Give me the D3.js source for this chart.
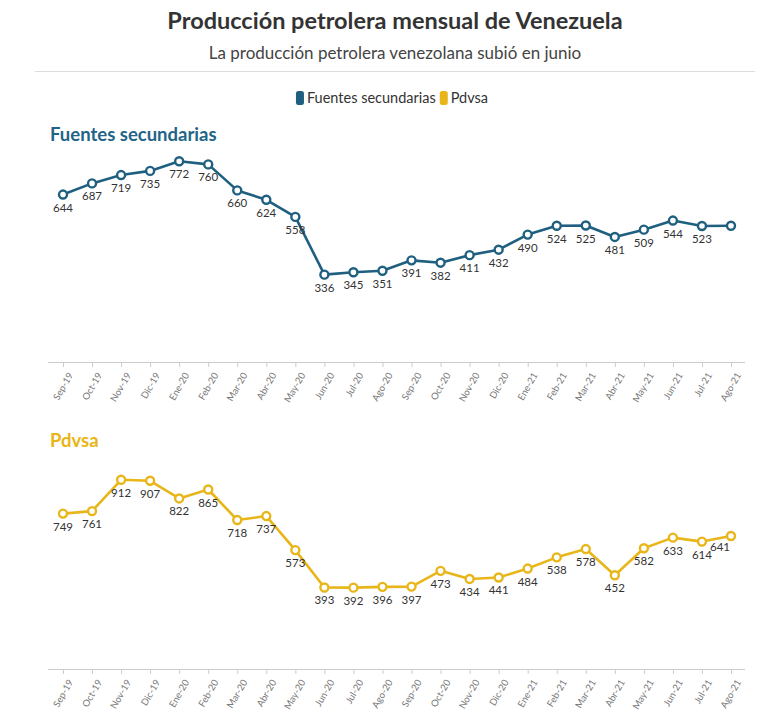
<!DOCTYPE html>
<html>
<head>
<meta charset="utf-8">
<script src="https://cdn.jsdelivr.net/npm/d3@7"></script>
<style>
  html, body { margin: 0; padding: 0; background: #ffffff; }
  svg { display: block; }
</style>
</head>
<body>
<svg id="chart" width="768" height="718"></svg>
<script>
const months = ["Sep-19","Oct-19","Nov-19","Dic-19","Ene-20","Feb-20","Mar-20","Abr-20","May-20","Jun-20","Jul-20","Ago-20","Sep-20","Oct-20","Nov-20","Dic-20","Ene-21","Feb-21","Mar-21","Abr-21","May-21","Jun-21","Jul-21","Ago-21"];
const fuentesValues = [644,687,719,735,772,760,660,624,558,336,345,351,391,382,411,432,490,524,525,481,509,544,523,524];
const pdvsaValues = [749,761,912,907,822,865,718,737,573,393,392,396,397,473,434,441,484,538,578,452,582,633,614,641];
const fuentesHiddenLabels = ["Ago-21"];
const pdvsaHiddenLabels = [];
const fuentesDomain = [0, 800];
const pdvsaDomain = [0, 1000];

const titleText = "Producción petrolera mensual de Venezuela";
const subtitleText = "La producción petrolera venezolana subió en junio";
const seriesNames = ["Fuentes secundarias", "Pdvsa"];
const colors = { fuentes: "#1f5f80", pdvsa: "#e8b619" };
const titleColors = { fuentes: "#226487", pdvsa: "#e9b514" };

const FONT = "Lato, 'Open Sans', 'Noto Sans', sans-serif";
const svg = d3.select("#chart").style("font-family", FONT);

svg.append("text").attr("x", 395).attr("y", 29).attr("text-anchor", "middle")
  .attr("font-size", 23.5).attr("font-weight", 700).attr("fill", "#333")
  .text(titleText);
svg.append("text").attr("x", 395).attr("y", 59).attr("text-anchor", "middle")
  .attr("font-size", 17).attr("fill", "#444")
  .text(subtitleText);
svg.append("line").attr("x1", 35).attr("x2", 755).attr("y1", 71.5).attr("y2", 71.5)
  .attr("stroke", "#dddddd").attr("stroke-width", 1);

// Legend
const legend = svg.append("g");
const legendItems = [
  { name: seriesNames[0], color: colors.fuentes },
  { name: seriesNames[1], color: colors.pdvsa }
];
let lx = 0;
const lg = legend.selectAll("g").data(legendItems).join("g");
lg.each(function(d) {
  const g = d3.select(this);
  g.append("rect").attr("x", 0).attr("y", -7).attr("width", 8).attr("height", 14).attr("rx", 2.5)
    .attr("fill", d.color);
  const t = g.append("text").attr("x", 11).attr("y", 5).attr("font-size", 14.5).attr("fill", "#333").text(d.name);
  const w = t.node().getComputedTextLength();
  g.attr("transform", `translate(${lx},0)`);
  lx += 11 + w + 4;
});
legend.attr("transform", `translate(${392 - (lx - 4) / 2},98)`);

const x = d3.scalePoint().domain(months).range([63, 731]);

function panel(opts) {
  const { values, domain, yBottom, yTop, color, titleColor, title, titleY, hidden } = opts;
  const y = d3.scaleLinear().domain(domain).range([yBottom, yTop]);
  const g = svg.append("g");

  g.append("text").attr("x", 50).attr("y", titleY).attr("font-size", 18.5).attr("font-weight", 700)
    .attr("fill", titleColor).text(title);

  // axis
  const axis = d3.axisBottom(x).tickSize(5).tickSizeOuter(0);
  const ax = g.append("g").attr("transform", `translate(0,${yBottom})`).call(axis);
  ax.select(".domain").remove();
  ax.append("line").attr("x1", 48).attr("x2", 745).attr("y1", 0.5).attr("y2", 0.5)
    .attr("stroke", "#cccccc");
  ax.selectAll(".tick line").attr("stroke", "#cccccc");
  ax.selectAll(".tick text")
    .attr("font-family", FONT).attr("font-size", 9.5).attr("fill", "#777")
    .attr("text-anchor", "end").attr("dx", "0").attr("dy", "0")
    .attr("transform", "translate(3,9) rotate(-60)");

  const data = months.map((m, i) => ({ m, v: values[i] }));
  g.append("path").datum(data)
    .attr("fill", "none").attr("stroke", color).attr("stroke-width", 2.6)
    .attr("stroke-linejoin", "round")
    .attr("d", d3.line().x(d => x(d.m)).y(d => y(d.v)));

  g.selectAll("circle").data(data).join("circle")
    .attr("cx", d => x(d.m)).attr("cy", d => y(d.v)).attr("r", 4)
    .attr("fill", "#fff").attr("stroke", color).attr("stroke-width", 2.4);

  const last = months[months.length - 1];
  g.selectAll("text.lbl").data(data.filter(d => !hidden.includes(d.m))).join("text")
    .attr("class", "lbl")
    .attr("x", d => x(d.m) - (d.m === last ? 11 : 0))
    .attr("y", d => y(d.v) + (d.m === last ? 15 : 17))
    .attr("text-anchor", "middle").attr("font-size", 11.5).attr("fill", "#333")
    .text(d => d.v);
}

panel({ values: fuentesValues, domain: fuentesDomain, yBottom: 362, yTop: 154,
  color: colors.fuentes, titleColor: titleColors.fuentes, title: seriesNames[0], titleY: 141,
  hidden: fuentesHiddenLabels });
panel({ values: pdvsaValues, domain: pdvsaDomain, yBottom: 669, yTop: 461.5,
  color: colors.pdvsa, titleColor: titleColors.pdvsa, title: seriesNames[1], titleY: 447,
  hidden: pdvsaHiddenLabels });
</script>
</body>
</html>
